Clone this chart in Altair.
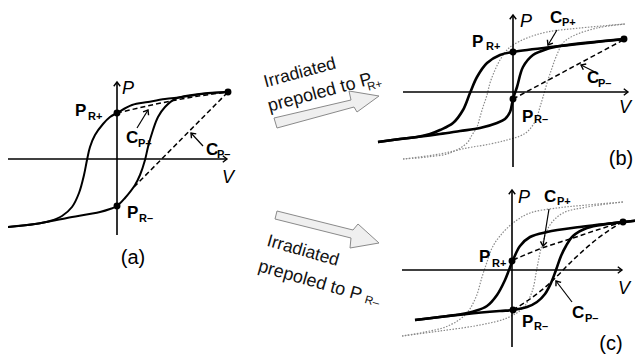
import altair as alt
import pandas as pd
import numpy as np

# ------------------------------------------------------------------
# All values (pixel positions).
# ------------------------------------------------------------------
# Panel (a): solid hysteresis loop
a_up_x = [7, 35, 50, 62, 72, 79, 84, 87, 90, 95, 103, 110, 117, 132, 148, 165, 182, 202, 228]
a_up_y = [227, 224, 221, 216, 207, 193, 175, 160, 147, 135, 124, 117, 113, 105, 102, 99, 97, 94, 92]
a_lo_x = [7, 35, 67, 100, 110, 117, 125, 135, 140, 145, 148, 153, 158, 165, 175, 192, 208, 228]
a_lo_y = [227, 224, 218, 212, 209, 206, 198, 185, 175, 160, 147, 130, 117, 107, 99, 95, 93, 92]
a_cpp_x, a_cpp_y = [117, 190, 228], [113, 97.5, 92]
a_cpm_x, a_cpm_y = [134, 228], [187, 92]

# Panel (b)
b_up_x = [378, 400, 417, 430, 440, 453, 463, 470, 477, 487, 500, 513, 625]
b_up_y = [142, 139, 137, 134, 130, 123, 110, 93, 77, 63, 55, 52, 39]
b_lo_x = [378, 400, 417, 440, 460, 480, 497, 505, 510, 513, 517, 523, 533, 547, 563, 625]
b_lo_y = [142, 139, 137, 134, 131, 128, 123, 119, 112, 99, 87, 67, 55, 49, 45.5, 39]
b_du_x = [403, 427, 450, 467, 472, 477, 480, 483, 487, 490, 495, 500, 507, 513, 527, 547, 580, 625]
b_du_y = [159, 157, 153, 143, 135, 127, 117, 107, 95, 83, 70, 60, 50, 45, 38, 32, 28, 24]
b_dl_x = [403, 440, 467, 490, 507, 520, 527, 533, 537, 540, 543, 548, 552, 556, 563, 573, 597, 625]
b_dl_y = [159, 154, 148, 144, 140, 136, 132, 125, 117, 107, 97, 80, 68, 57, 43, 36, 28, 24]
b_cpm_x, b_cpm_y = [513, 625], [99, 39]

# Panel (c)
c_up_x = [415, 440, 462, 475, 487, 497, 505, 509, 513, 520, 530, 547, 580, 623, 643]
c_up_y = [320, 317, 314, 311, 306, 295, 280, 270, 260, 246, 237, 232, 227, 222, 220]
c_lo_x = [415, 467, 500, 513, 527, 537, 545, 551, 556, 561, 566, 573, 587, 607, 623, 643]
c_lo_y = [320, 314, 311, 310, 307, 302, 294, 283, 270, 256, 246, 236, 228, 224, 222, 220]
c_du_x = [402, 425, 448, 466, 476, 482, 487, 492, 500, 513, 530, 557, 587, 623]
c_du_y = [336, 332, 326, 314, 297, 277, 262, 248, 236, 223, 213, 208, 205, 202]
c_dl_x = [402, 440, 480, 507, 523, 532, 537, 542, 550, 563, 587, 623]
c_dl_y = [336, 331, 325, 318, 308, 292, 268, 245, 225, 213, 207, 202]
c_cpp_x, c_cpp_y = [513, 545, 570, 597, 622], [260, 247, 239, 230, 222]
c_cpm_x, c_cpm_y = [513, 530, 550, 573, 597, 622], [310, 299, 283, 260, 239, 222]

# Axes (start x, start y, end x, end y)
ax_x1 = [117, 7, 513, 403, 512, 402]
ax_y1 = [235, 159, 167, 92, 347, 270]
ax_x2 = [117, 227, 513, 628, 512, 622]
ax_y2 = [82, 159, 15, 92, 190, 270]

# Annotation pointers (label end -> tip)
pt_x1 = [137, 203, 557, 597, 549, 572]
pt_y1 = [128, 146, 30, 73, 209, 302]
pt_x2 = [148, 191, 548, 581, 543, 556]
pt_y2 = [110, 133, 45, 65, 246, 281]

# Marked points (P_R+, P_R-, end point)
dot_x = [117, 117, 228, 513, 513, 624, 512, 513, 623]
dot_y = [113, 206, 92, 52, 99, 39, 261, 310, 222]

# Block arrows (outline, in drawing order)
arr1_x = [274, 351, 349, 379, 357, 354, 277, 274]
arr1_y = [118, 100, 91, 96, 112, 107, 128, 118]
arr2_x = [277, 353, 358, 379, 350, 351, 275, 277]
arr2_y = [211, 230, 224, 243, 248, 238, 219, 211]

# Bold labels P / C and their subscripts
lab_txt = ["P", "P", "C", "C", "P", "P", "C", "C", "P", "P", "C", "C"]
lab_x = [75, 127, 126, 206, 472, 522, 550, 587, 479, 522, 544, 572]
lab_y = [116, 218, 143, 155, 47, 122, 23, 83, 262, 327, 202, 318]
sub_txt = ["R+", "R–", "P+", "P–", "R+", "R–", "P+", "P–", "R+", "R–", "P+", "P–"]
sub_x = [88, 139, 138, 217, 486, 534, 562, 598, 492, 534, 557, 585]
sub_y = [120, 222, 147, 158, 50, 123, 26, 87, 267, 330, 205, 322]

# Italic axis names
axn_txt = ["P", "V", "P", "V", "P", "V"]
axn_x = [128, 228, 526, 625, 524, 624]
axn_y = [89, 178, 22, 108, 198, 289]

# Panel letters
pan_txt = ["(a)", "(b)", "(c)"]
pan_x = [133, 621, 611]
pan_y = [258, 159, 344]

# Rotated captions
rot_txt = ["Irradiated", "prepoled to P", "R+", "Irradiated", "prepoled to P", "R–"]
rot_x = [300, 320, 375, 303, 310, 372]
rot_y = [73, 93, 86, 251, 281, 302]
rot_size = [17.5, 18, 11.5, 17.5, 18, 11.5]
rot_ang = [345, 345, 345, 16, 16, 16]

# ------------------------------------------------------------------
FONT = "Liberation Sans"
X = alt.X("x:Q", scale=alt.Scale(domain=[8, 635], nice=False, zero=False), axis=None)
Y = alt.Y("y:Q", scale=alt.Scale(domain=[8, 354], reverse=True, nice=False, zero=False), axis=None)


def curves(items):
    rows = []
    for name, xs, ys in items:
        for i, (x, y) in enumerate(zip(xs, ys)):
            rows.append({"seg": name, "i": i, "x": x, "y": y})
    return pd.DataFrame(rows)


def line_layer(items, **kw):
    return alt.Chart(curves(items)).mark_line(**kw).encode(
        x=X, y=Y, detail="seg:N", order="i:Q")


solid_a = line_layer([("a_up", a_up_x, a_up_y), ("a_lo", a_lo_x, a_lo_y)],
                     color="black", strokeWidth=2, interpolate="catmull-rom")
solid_bc = line_layer([("b_up", b_up_x, b_up_y), ("b_lo", b_lo_x, b_lo_y),
                       ("c_up", c_up_x, c_up_y), ("c_lo", c_lo_x, c_lo_y)],
                      color="black", strokeWidth=2.6, interpolate="catmull-rom")
dotted = line_layer([("b_du", b_du_x, b_du_y), ("b_dl", b_dl_x, b_dl_y),
                     ("c_du", c_du_x, c_du_y), ("c_dl", c_dl_x, c_dl_y)],
                    color="#8a8a8a", strokeWidth=1.2, strokeDash=[1.5, 1.5],
                    interpolate="catmull-rom")
dashed = line_layer([("a_cpp", a_cpp_x, a_cpp_y), ("a_cpm", a_cpm_x, a_cpm_y),
                     ("b_cpm", b_cpm_x, b_cpm_y), ("c_cpp", c_cpp_x, c_cpp_y),
                     ("c_cpm", c_cpm_x, c_cpm_y)],
                    color="black", strokeWidth=1.5, strokeDash=[5, 3],
                    interpolate="monotone")

block = alt.Chart(curves([("arr1", arr1_x, arr1_y), ("arr2", arr2_x, arr2_y)])).mark_line(
    fill="#efefef", stroke="#8a8a8a", strokeWidth=1, interpolate="linear"
).encode(x=X, y=Y, detail="seg:N", order="i:Q")

seg_df = pd.DataFrame({"x": ax_x1 + pt_x1, "y": ax_y1 + pt_y1,
                       "x2": ax_x2 + pt_x2, "y2": ax_y2 + pt_y2,
                       "w": [1.6] * len(ax_x1) + [1.2] * len(pt_x1)})
segs = alt.Chart(seg_df).mark_rule(color="black").encode(
    x=X, y=Y, x2="x2:Q", y2="y2:Q", strokeWidth=alt.StrokeWidth("w:Q", scale=None))

dx = np.array(seg_df["x2"]) - np.array(seg_df["x"])
dy = np.array(seg_df["y2"]) - np.array(seg_df["y"])
head_df = pd.DataFrame({"x": seg_df["x2"], "y": seg_df["y2"],
                        "ang": np.mod(np.degrees(np.arctan2(dx, -dy)), 360)})
heads = alt.Chart(head_df).mark_point(
    shape="M-1,1.3L0,0L1,1.3", filled=False, color="black", strokeWidth=1.4, size=42, opacity=1
).encode(x=X, y=Y, angle=alt.Angle("ang:Q", scale=None))

dots = alt.Chart(pd.DataFrame({"x": dot_x, "y": dot_y})).mark_circle(
    color="black", size=48, opacity=1).encode(x=X, y=Y)

labels = alt.Chart(pd.DataFrame({"x": lab_x, "y": lab_y, "t": lab_txt})).mark_text(
    font=FONT, fontSize=17, fontWeight="bold", align="left", baseline="alphabetic", color="black"
).encode(x=X, y=Y, text="t:N")
subs = alt.Chart(pd.DataFrame({"x": sub_x, "y": sub_y, "t": sub_txt})).mark_text(
    font=FONT, fontSize=11, fontWeight="bold", align="left", baseline="alphabetic", color="black"
).encode(x=X, y=Y, text="t:N")
axnames = alt.Chart(pd.DataFrame({"x": axn_x, "y": axn_y, "t": axn_txt})).mark_text(
    font=FONT, fontSize=18, fontStyle="italic", align="center", baseline="middle", color="black"
).encode(x=X, y=Y, text="t:N")
panels = alt.Chart(pd.DataFrame({"x": pan_x, "y": pan_y, "t": pan_txt})).mark_text(
    font=FONT, fontSize=20, align="center", baseline="middle", color="black"
).encode(x=X, y=Y, text="t:N")
captions = alt.Chart(pd.DataFrame({"x": rot_x, "y": rot_y, "t": rot_txt,
                                   "s": rot_size, "a": rot_ang})).mark_text(
    font=FONT, align="center", baseline="middle", color="#111111"
).encode(x=X, y=Y, text="t:N", size=alt.Size("s:Q", scale=None),
         angle=alt.Angle("a:Q", scale=None))

chart = alt.layer(
    block, dotted, dashed, solid_a, solid_bc, segs, heads, dots,
    labels, subs, axnames, panels, captions
).properties(
    width=627, height=346, padding=0, autosize=alt.AutoSizeParams(type="none"),
    background="white"
).configure_view(stroke=None)

chart.save("out.html", embed_options={"renderer": "svg", "actions": False})
